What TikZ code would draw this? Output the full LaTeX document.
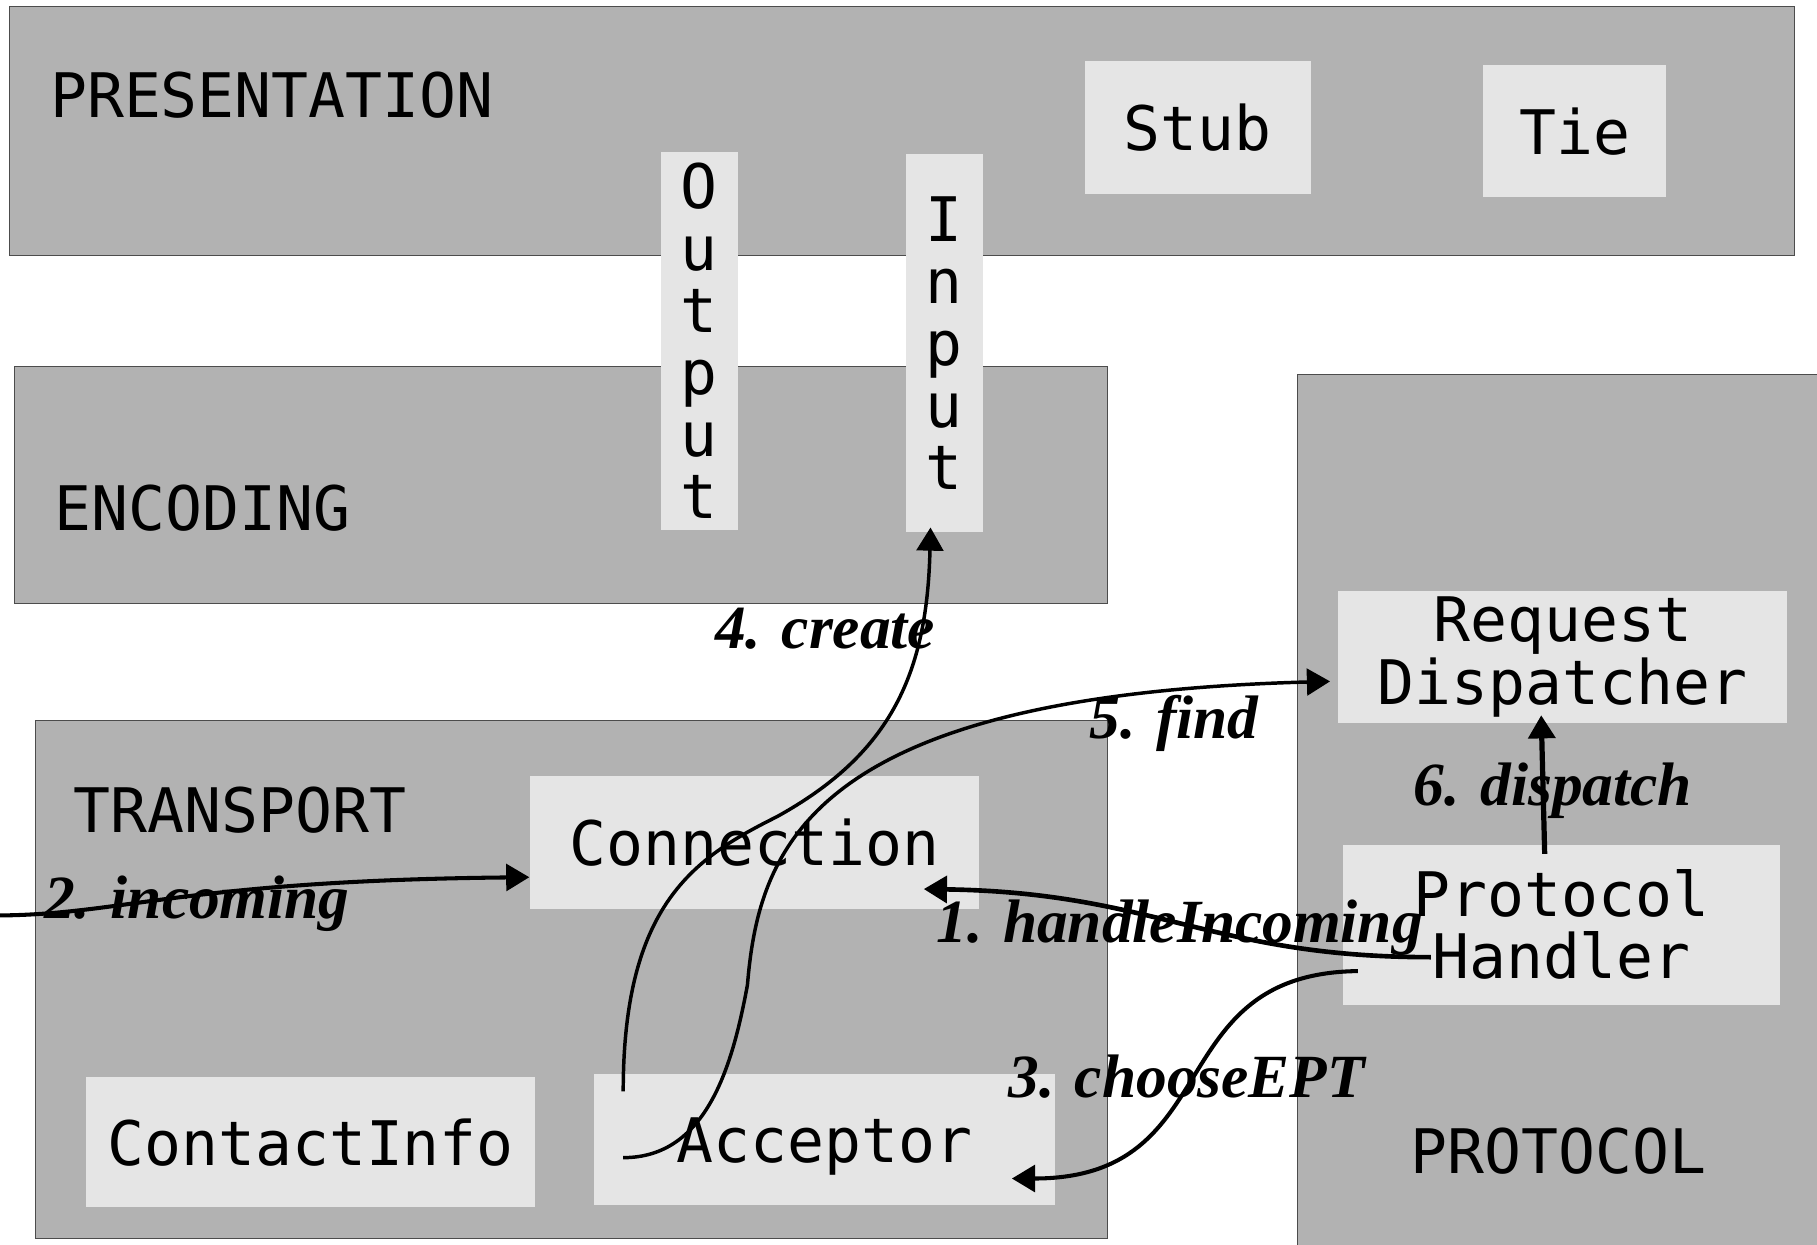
\documentclass[tikz,border=0pt]{standalone}
\usepackage{fontspec}
\newfontfamily\boxfont{DejaVu Sans Mono}
\newfontfamily\callfont{Liberation Serif}
\usetikzlibrary{arrows.meta}

\begin{document}
\begin{tikzpicture}[
  x=1pt, y=-1pt,
  layer/.style    ={rectangle, draw=black!70, line width=1pt, fill=black!30,
                    anchor=north west, inner sep=0pt},
  layername/.style={anchor=base west, inner sep=0pt,
                    font=\boxfont\fontsize{53}{53.6}\selectfont},
  comp/.style     ={rectangle, fill=black!10, inner sep=0pt, align=center,
                    font=\boxfont\fontsize{53}{53.6}\selectfont},
  oneline/.style  ={text depth=0pt},
  call/.style     ={anchor=base west, inner sep=0pt,
                    font=\callfont\fontsize{53}{60}\selectfont\bfseries\itshape},
  arr/.style      ={-{Triangle[length=20pt,width=23pt]}, line width=4pt},
  arrthin/.style  ={-{Triangle[length=20pt,width=23pt]}, line width=3pt},
]
\useasboundingbox (0,0) rectangle (1568,1074);
\clip (0,0) rectangle (1568,1074);

% ---------------- layers ----------------
\node[layer, minimum width=1540pt, minimum height=215pt] (pres)  at (8,5) {};
\node[layer, minimum width=943pt,  minimum height=204pt] (enc)   at (12,316) {};
\node[layer, minimum width=925pt,  minimum height=447pt] (trans) at (30,621) {};
\node[layer, minimum width=470pt,  minimum height=770pt] (proto) at (1119,323) {};

\node[layername] (presname)  at (43,101)   {PRESENTATION};
\node[layername] (encname)   at (47,458)   {ENCODING};
\node[layername] (transname) at (63,718)   {TRANSPORT};
\node[layername] (protoname) at (1217,1013) {PROTOCOL};

% ---------------- components ----------------
\node[comp, oneline, minimum width=195pt, minimum height=114pt] (stub) at (1033.5,110) {Stub};
\node[comp, oneline, minimum width=158pt, minimum height=114pt] (tie)  at (1359,113)   {Tie};

\node[comp, minimum width=67pt, minimum height=326pt] (outp) at (603.5,294) {O\\u\\t\\p\\u\\t};
\node[comp, minimum width=66pt, minimum height=326pt] (inp)  at (815,296)   {I\\n\\p\\u\\t};

\node[comp, oneline, minimum width=388pt, minimum height=114pt] (conn)    at (651,727)     {Connection};
\node[comp, oneline, minimum width=388pt, minimum height=113pt] (contact) at (268,985.5)   {ContactInfo};
\node[comp, oneline, minimum width=397pt, minimum height=113pt] (acc)     at (711.5,983.5) {Acceptor};

\node[comp, minimum width=387pt, minimum height=114pt] (rd) at (1348.5,567)   {Request\\Dispatcher};
\node[comp, minimum width=377pt, minimum height=138pt] (ph) at (1347.5,798)   {Protocol\\Handler};

\coordinate (netin) at (-5,790);

% ---------------- calls ----------------
\node[call] (l1) at (808,813)  {1. handleIncoming};
\node[call] (l2) at (38,793)   {2. incoming};
\node[call] (l3) at (870,947)  {3. chooseEPT};
\node[call] (l4) at (617,560)  {4. create};
\node[call] (l5) at (940,637)  {5. find};
\node[call] (l6) at (1220,695) {6. dispatch};

\draw[arr] ([xshift=76pt,yshift=-28pt]ph.west)
  .. controls +(-190,0) and +(200,3) .. ([xshift=-48pt,yshift=17pt]conn.south east);
\draw[arr, line width=3.5pt] (netin)
  .. controls +(110,0) and +(-300,3) .. ([yshift=-30pt]conn.west);
\draw[arr, line width=3.5pt] ([xshift=13pt,yshift=-40pt]ph.west)
  .. controls +(-172,2) and +(187,0) .. ([xshift=-37pt,yshift=-33.5pt]acc.east);
\draw[arrthin] ([xshift=25pt,yshift=-15pt]acc.north west)
  .. controls +(0,-162) and (600,740) .. (670,705)
  .. controls (770,650) and (800,580) .. ([xshift=-12pt,yshift=4pt]inp.south);
\draw[arrthin] ([xshift=25pt,yshift=-15.5pt]acc.west)
  .. controls +(72,0) and (632,920) .. (645,850)
  .. controls (655,730) and (700,600) .. ([xshift=-7pt,yshift=-21pt]rd.west);
\draw[arr, line width=4.5pt] ([xshift=-14.5pt,yshift=-8pt]ph.north) -- ([xshift=-18.5pt,yshift=7pt]rd.south);

\end{tikzpicture}
\end{document}
